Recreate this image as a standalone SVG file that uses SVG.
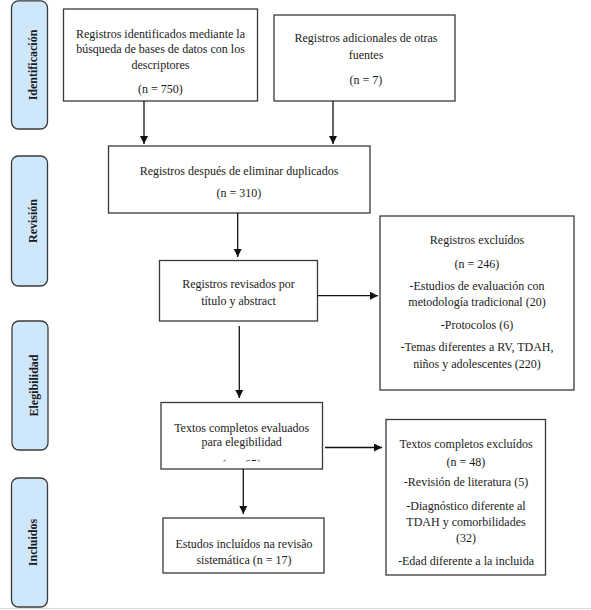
<svg xmlns="http://www.w3.org/2000/svg" width="591" height="610" viewBox="0 0 591 610">
  <defs>
    <style>
      .stage rect { fill: #cfe7fb; stroke: #3a3a3a; stroke-width: 1.3; }
      .stage text { font-family: "Liberation Serif", "Times New Roman", serif; font-size: 12px; font-weight: bold; fill: #1a1a1a; text-anchor: middle; }
      .box rect { fill: #ffffff; stroke: #3a3a3a; stroke-width: 1.3; }
      .box text { font-family: "Liberation Serif", "Times New Roman", serif; font-size: 12px; fill: #1a1a1a; text-anchor: middle; }
      .conn line { stroke: #111; stroke-width: 1.3; fill: none; }
    </style>
    <marker id="arr" viewBox="0 0 10 10" refX="10" refY="5" markerWidth="9" markerHeight="8" markerUnits="userSpaceOnUse" orient="auto">
      <path d="M0,0 L10,5 L0,10 z" fill="#111"/>
    </marker>
    <clipPath id="clip65">
      <rect x="200" y="455" width="90" height="6.5"/>
    </clipPath>
  </defs>

  <rect x="0" y="0" width="591" height="610" fill="#ffffff"/>
  <line x1="0" y1="608.5" x2="591" y2="608.5" stroke="#d9d9d9" stroke-width="1.2"/>

  <g id="stage-identificacion" class="stage">
    <rect x="11.5" y="0.8" width="36" height="128.2" rx="7"/>
    <text transform="translate(37,65) rotate(-90)">Identificación</text>
  </g>
  <g id="stage-revision" class="stage">
    <rect x="11.5" y="156" width="36" height="130" rx="7"/>
    <text transform="translate(37,221) rotate(-90)">Revisión</text>
  </g>
  <g id="stage-elegibilidad" class="stage">
    <rect x="12" y="321" width="36" height="129" rx="7"/>
    <text transform="translate(37.5,385.5) rotate(-90)">Elegibilidad</text>
  </g>
  <g id="stage-incluidos" class="stage">
    <rect x="11.5" y="478" width="36" height="129" rx="7"/>
    <text transform="translate(37,542.5) rotate(-90)">Incluidos</text>
  </g>

  <g id="node-identificados" class="box">
    <rect x="63.5" y="9" width="194" height="92"/>
    <text x="160.5" y="37.5">Registros identificados mediante la</text>
    <text x="160.5" y="53">búsqueda de bases de datos con los</text>
    <text x="160.5" y="68.5">descriptores</text>
    <text x="160.5" y="92.5">(n = 750)</text>
  </g>

  <g id="node-adicionales" class="box">
    <rect x="274" y="15" width="181" height="86"/>
    <text x="366" y="42">Registros adicionales de otras</text>
    <text x="366" y="58.5">fuentes</text>
    <text x="366" y="84">(n = 7)</text>
  </g>

  <g id="node-duplicados" class="box">
    <rect x="108.5" y="146" width="261.5" height="67"/>
    <text x="239" y="175">Registros después de eliminar duplicados</text>
    <text x="239" y="197">(n = 310)</text>
  </g>

  <g id="node-revisados" class="box">
    <rect x="159.5" y="260.5" width="158" height="60.5"/>
    <text x="238.5" y="288">Registros revisados por</text>
    <text x="238.5" y="304.5">título y abstract</text>
  </g>

  <g id="node-excluidos" class="box">
    <rect x="380" y="216" width="194" height="174"/>
    <text x="477" y="243.5">Registros excluídos</text>
    <text x="477" y="267.5">(n = 246)</text>
    <text x="477" y="290">-Estudios de evaluación con</text>
    <text x="477" y="305.5">metodología tradicional (20)</text>
    <text x="477" y="329">-Protocolos (6)</text>
    <text x="477" y="350.5">-Temas diferentes a RV, TDAH,</text>
    <text x="477" y="368">niños y adolescentes (220)</text>
  </g>

  <g id="node-evaluados" class="box">
    <rect x="161" y="402.5" width="161.5" height="66.5"/>
    <text x="241.7" y="431.5">Textos completos evaluados</text>
    <text x="241.7" y="446">para elegibilidad</text>
    <text x="241.7" y="467.5" clip-path="url(#clip65)">(n = 65)</text>
  </g>

  <g id="node-textos-excluidos" class="box">
    <rect x="386" y="419.5" width="159.5" height="155.5"/>
    <text x="466" y="448">Textos completos excluídos</text>
    <text x="466" y="465.5">(n = 48)</text>
    <text x="466" y="486">-Revisión de literatura (5)</text>
    <text x="466" y="510">-Diagnóstico diferente al</text>
    <text x="466" y="526">TDAH y comorbilidades</text>
    <text x="466" y="542">(32)</text>
    <text x="466" y="564.5">-Edad diferente a la incluida</text>
  </g>

  <g id="node-incluidos" class="box">
    <rect x="163" y="518" width="161" height="55"/>
    <text x="244" y="548">Estudos incluídos na revisão</text>
    <text x="244" y="564">sistemática (n = 17)</text>
  </g>

  <g id="connectors" class="conn">
    <line x1="144" y1="101" x2="144" y2="144" marker-end="url(#arr)"/>
    <line x1="333" y1="101" x2="333" y2="144" marker-end="url(#arr)"/>
    <line x1="237.7" y1="213" x2="237.7" y2="257" marker-end="url(#arr)"/>
    <line x1="317.5" y1="295.7" x2="378" y2="295.7" marker-end="url(#arr)"/>
    <line x1="239.3" y1="326" x2="239.3" y2="398" marker-end="url(#arr)"/>
    <line x1="325" y1="447.5" x2="382" y2="447.5" marker-end="url(#arr)"/>
    <line x1="243.3" y1="469" x2="243.3" y2="514" marker-end="url(#arr)"/>
  </g>
</svg>
